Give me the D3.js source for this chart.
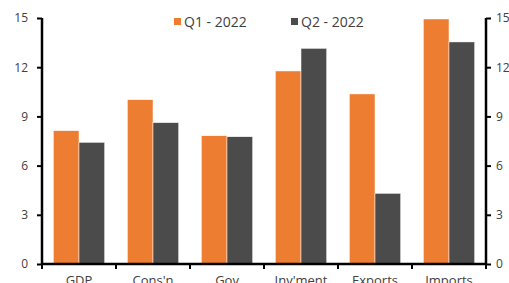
<!DOCTYPE html>
<html>
<head>
<meta charset="utf-8">
<script src="https://cdn.jsdelivr.net/npm/d3@7"></script>
<style>
  html, body { margin: 0; padding: 0; background: #fff; overflow: hidden; }
  svg { display: block; font-family: "Open Sans", "Noto Sans", sans-serif; }
</style>
</head>
<body>
<div id="chart"></div>
<script>
// Chart data
const categories = ['GDP', "Cons'n", 'Gov', "Inv'ment", 'Exports', 'Imports'];
const seriesNames = ['Q1 - 2022', 'Q2 - 2022'];
const q1Values = [8.13, 10.02, 7.82, 11.77, 10.37, 14.94];
const q2Values = [7.42, 8.62, 7.76, 13.15, 4.31, 13.54];
const yTicks = [0, 3, 6, 9, 12, 15];
const colors = ['#ED7D31', '#4B4B4B'];

const width = 509;
const height = 283;
const margin = { top: 18, right: 23, bottom: 19, left: 42 };
const innerWidth = width - margin.left - margin.right;
const innerHeight = height - margin.top - margin.bottom;

const svg = d3.select('#chart')
  .append('svg')
  .attr('width', width)
  .attr('height', height);

const g = svg.append('g')
  .attr('transform', `translate(${margin.left},${margin.top})`);

// Scales
const x0 = d3.scaleBand()
  .domain(categories)
  .range([0, innerWidth])
  .padding(0);

const x1 = d3.scaleBand()
  .domain(seriesNames)
  .range([0, x0.bandwidth()])
  .paddingInner(0)
  .paddingOuter(0.44);

const y = d3.scaleLinear()
  .domain([0, 15])
  .range([innerHeight, 0]);

const rows = categories.map((c, i) => ({
  category: c,
  values: [
    { name: seriesNames[0], value: q1Values[i] },
    { name: seriesNames[1], value: q2Values[i] }
  ]
}));

// Bars
const groups = g.selectAll('.group')
  .data(rows)
  .enter()
  .append('g')
  .attr('class', 'group')
  .attr('transform', d => `translate(${x0(d.category)},0)`);

groups.selectAll('rect')
  .data(d => d.values)
  .enter()
  .append('rect')
  .attr('x', d => x1(d.name))
  .attr('y', d => y(d.value))
  .attr('width', x1.bandwidth())
  .attr('height', d => innerHeight - y(d.value))
  .attr('fill', (d, i) => colors[i])
  .attr('stroke', '#fff')
  .attr('stroke-width', 0.5);

// Left axis
const yLeft = g.append('g')
  .call(d3.axisLeft(y).tickValues(yTicks).tickSize(5).tickPadding(9));

// Right axis
const yRight = g.append('g')
  .attr('transform', `translate(${innerWidth},0)`)
  .call(d3.axisRight(y).tickValues(yTicks).tickSize(5).tickPadding(5));

// X axis
const xAxis = g.append('g')
  .attr('transform', `translate(0,${innerHeight})`)
  .call(d3.axisBottom(x0).tickSize(0).tickPadding(12));

// Boundary ticks between categories
g.append('g')
  .selectAll('line')
  .data(d3.range(categories.length + 1))
  .enter()
  .append('line')
  .attr('x1', i => i * x0.step())
  .attr('x2', i => i * x0.step())
  .attr('y1', innerHeight)
  .attr('y2', innerHeight + 5)
  .attr('stroke', '#000')
  .attr('stroke-width', 2);

[yLeft, yRight, xAxis].forEach(ax => {
  ax.select('.domain')
    .attr('stroke', '#000')
    .attr('stroke-width', 2.5);
  ax.selectAll('.tick line')
    .attr('stroke', '#000')
    .attr('stroke-width', 2);
  ax.selectAll('text')
    .attr('fill', '#404040')
    .style('font-size', '12px')
    .style('font-family', '"Open Sans", sans-serif');
});

xAxis.select('.domain').attr('d', `M0,0H${innerWidth}`);
yLeft.select('.domain').attr('d', `M0,${innerHeight + 1}V0`);
yRight.select('.domain').attr('d', `M0,${innerHeight + 1}V0`);
xAxis.selectAll('text').style('font-size', '13px');

// Legend
const legend = svg.append('g')
  .attr('transform', 'translate(174,22)');

const legendItems = legend.selectAll('g')
  .data(seriesNames)
  .enter()
  .append('g')
  .attr('transform', (d, i) => `translate(${i * 117},0)`);

legendItems.append('rect')
  .attr('x', 0)
  .attr('y', -4)
  .attr('width', 7)
  .attr('height', 7)
  .attr('fill', (d, i) => colors[i]);

legendItems.append('text')
  .attr('x', 10)
  .attr('y', 5)
  .attr('fill', '#404040')
  .style('font-size', '14px')
  .text(d => d);
</script>
</body>
</html>
